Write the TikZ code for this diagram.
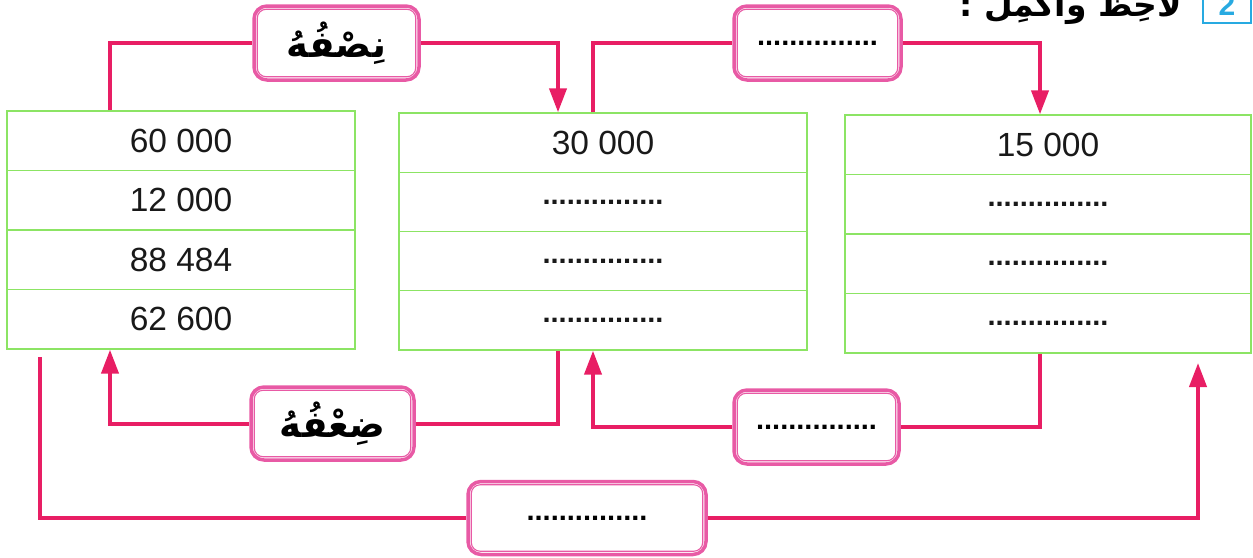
\documentclass[tikz,border=0pt]{standalone}
\usepackage{fontspec}
\setmainfont{Liberation Sans}
\newfontfamily\arabicfont[Script=Arabic]{DejaVu Sans}
\TeXXeTstate=1
\usetikzlibrary{arrows.meta}
\definecolor{conncol}{RGB}{232,30,100}
\definecolor{boxcol}{RGB}{232,90,165}
\definecolor{tabcol}{RGB}{140,228,100}
\definecolor{numcol}{RGB}{40,170,225}
\newcommand\dotsline{{\fontsize{29}{30}\selectfont\bfseries ...............}}
\newcommand\arlabel[1]{{\arabicfont\bfseries\fontsize{37}{40}\selectfont\beginR #1\endR}}
\begin{document}
\begin{tikzpicture}[x=1pt,y=-1pt,
  cell/.style={draw=tabcol,line width=1.3pt,minimum height=59.5pt,inner sep=0pt,
    font=\fontsize{33.5}{36}\selectfont,text=black!90},
  qbox/.style={draw=boxcol,line width=3.5pt,rounded corners=13pt,fill=white,
    minimum height=74pt,inner sep=0pt},
  qinner/.style={draw=boxcol,line width=1.1pt,rounded corners=9pt},
  conn/.style={draw=conncol,line width=4pt},
  arr/.style={-{Triangle[width=17pt,length=24pt]}}]
\useasboundingbox (0,0) rectangle (1253,557);
\clip (0,0) rectangle (1253,557);
% tables
\node[cell,minimum width=348pt] (L1) at (181,140.75) {60 000};
\node[cell,minimum width=348pt] (L2) at (181,200.25) {12 000};
\node[cell,minimum width=348pt] (L3) at (181,259.75) {88 484};
\node[cell,minimum width=348pt] (L4) at (181,319.25) {62 600};
\node[cell,minimum width=408pt,minimum height=59.25pt] (M1) at (603,142.6) {30 000};
\node[cell,minimum width=408pt,minimum height=59.25pt] (M2) at (603,201.9) {\dotsline};
\node[cell,minimum width=408pt,minimum height=59.25pt] (M3) at (603,261.1) {\dotsline};
\node[cell,minimum width=408pt,minimum height=59.25pt] (M4) at (603,320.4) {\dotsline};
\node[cell,minimum width=406pt] (R1) at (1048,144.75) {15 000};
\node[cell,minimum width=406pt] (R2) at (1048,204.25) {\dotsline};
\node[cell,minimum width=406pt] (R3) at (1048,263.75) {\dotsline};
\node[cell,minimum width=406pt] (R4) at (1048,323.25) {\dotsline};
% connector x positions
\coordinate (xa) at (110,0);
\coordinate (xb) at (558,0);
\coordinate (xc) at (593,0);
\coordinate (xd) at (1040,0);
\coordinate (s5) at (40,357);
\coordinate (e5) at (1198,363);
% label box positions
\coordinate (p1) at (336.5,43);
\coordinate (p2) at (817.5,43);
\coordinate (p3) at (332.5,423.5);
\coordinate (p4) at (816.5,427);
\coordinate (p5) at (587,518);
% boxes
\node[qbox,minimum width=165pt] (b1) at (p1) {\arlabel{نِصْفُهُ}};
\node[qbox,minimum width=167pt] (b2) at (p2) {\dotsline};
\node[qbox,minimum width=163pt,minimum height=73pt] (b3) at (p3) {\arlabel{ضِعْفُهُ}};
\node[qbox,minimum width=165pt] (b4) at (p4) {\dotsline};
\node[qbox,minimum width=238pt,minimum height=73pt] (b5) at (p5) {\dotsline};
\foreach \b in {b1,b2,b3,b4,b5}{
  \draw[qinner] ([shift={(5,5)}]\b.north west) rectangle ([shift={(-5,-5)}]\b.south east);
}
% connectors
\draw[conn] (L1.north -| xa) |- (b1.west);
\draw[conn,arr] (b1.east) -| (M1.north -| xb);
\draw[conn] (M1.north -| xc) |- (b2.west);
\draw[conn,arr] (b2.east) -| (R1.north -| xd);
\draw[conn] (M4.south -| xb) |- (b3.east);
\draw[conn,arr] (b3.west) -| (L4.south -| xa);
\draw[conn] (R4.south -| xd) |- (b4.east);
\draw[conn,arr] (b4.west) -| (M4.south -| xc);
\draw[conn] (s5) |- (b5.west);
\draw[conn,arr] (b5.east) -| (e5);
% header
\node[draw=numcol,line width=2pt,minimum width=48pt,minimum height=36pt,inner sep=0pt,
  text=numcol,font=\bfseries\fontsize{30}{30}\selectfont] (num) at (1227,5) {2};
\node[anchor=base east,inner sep=0pt] (title) at (1182,16)
  {\arabicfont\bfseries\fontsize{33}{36}\selectfont\beginR لاحِظْ وأكمِلْ :\endR};
\end{tikzpicture}
\end{document}
